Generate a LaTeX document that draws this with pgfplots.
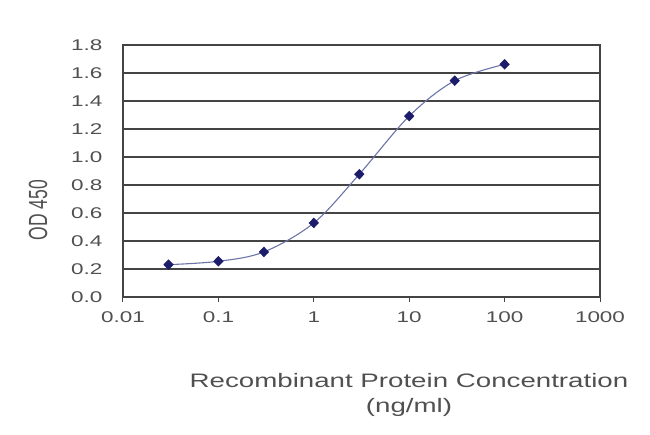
\documentclass[border=0pt]{standalone}
\usepackage{pgfplots}
\pgfplotsset{compat=1.18}
\usepackage{fontspec}
\setmainfont{Liberation Sans}
\definecolor{txt}{HTML}{505050}
\definecolor{gridc}{HTML}{444444}
\definecolor{curve}{HTML}{6A74A8}
\definecolor{mk}{HTML}{1C1C6A}
\newcommand{\sx}[1]{\scalebox{1.45}[1]{#1}}
\begin{document}
\begin{tikzpicture}
\useasboundingbox (-123pt,-137pt) rectangle (527pt,297pt);
\begin{axis}[
  at={(0,0)}, anchor=south west,
  scale only axis, width=477pt, height=252pt,
  xmode=log, xmin=0.01, xmax=1000, ymin=0, ymax=1.8,
  xtick={0.01,0.1,1,10,100,1000},
  xticklabels={\sx{0.01},\sx{0.1},\sx{1},\sx{10},\sx{100},\sx{1000}},
  ytick={0,0.2,0.4,0.6,0.8,1.0,1.2,1.4,1.6,1.8},
  yticklabels={\sx{0.0},\sx{0.2},\sx{0.4},\sx{0.6},\sx{0.8},\sx{1.0},\sx{1.2},\sx{1.4},\sx{1.6},\sx{1.8}},
  minor x tick num=0, xminorticks=false,
  ymajorgrids, grid style={gridc, line width=1.3pt},
  axis line style={gridc, line width=1.3pt},
  tick style={gridc, line width=1pt},
  ytick style={draw=none},
  major tick length=5pt, tick align=outside, tick pos=left,
  ticklabel style={font=\fontsize{15.5}{18}\selectfont, text=txt},
  xticklabel style={yshift=-6pt},
  yticklabel style={xshift=-12pt},
]
\addplot[curve, line width=1.1pt, smooth, tension=0.55, mark=diamond*, mark size=4.5pt,
  mark options={fill=mk, draw=mk, xscale=1.3}] coordinates {
  (0.03,0.231) (0.1,0.255) (0.3,0.322) (1,0.529) (3,0.877) (10,1.292) (30,1.545) (100,1.662)
};
\end{axis}
\node[text=txt, font=\fontsize{19.5}{22}\selectfont] at (286pt,-84pt) {\scalebox{1.42}[1]{Recombinant Protein Concentration}};
\node[text=txt, font=\fontsize{19.5}{22}\selectfont] at (286pt,-110pt) {\scalebox{1.42}[1]{(ng/ml)}};
\node[text=txt, font=\fontsize{17.5}{20}\selectfont, rotate=90] at (-85pt,87pt) {\scalebox{1}[1.5]{OD 450}};
\end{tikzpicture}
\end{document}
